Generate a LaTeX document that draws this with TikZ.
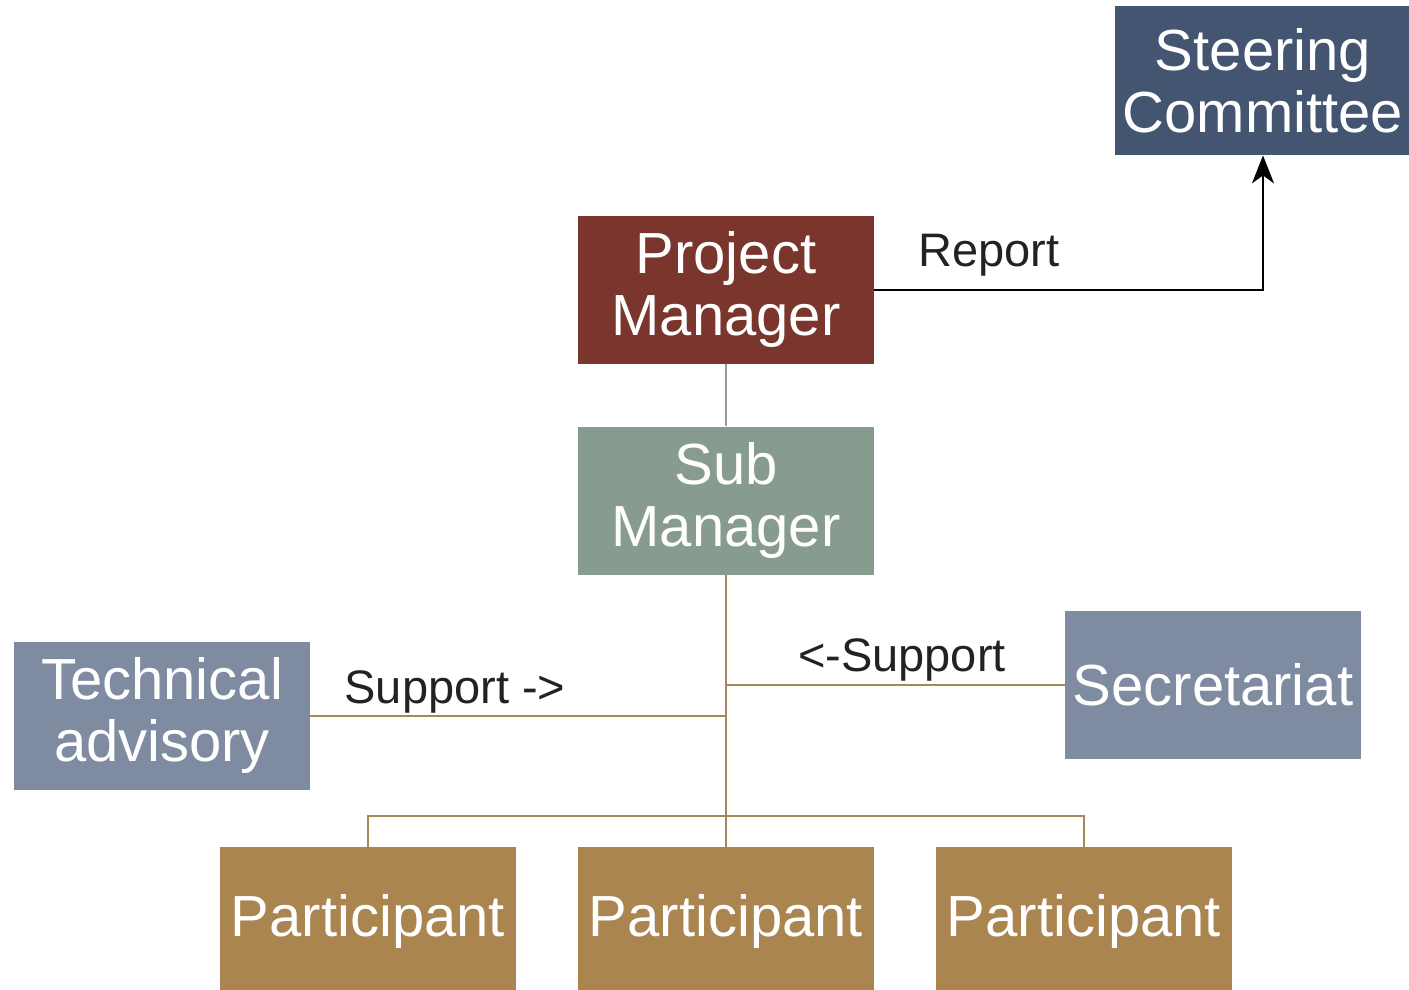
\documentclass[tikz,border=0pt]{standalone}
\usepackage{fontspec}
\setmainfont{Liberation Sans}
\usepackage{tikz}
\usetikzlibrary{arrows.meta,positioning}

\definecolor{steercol}{HTML}{435570}
\definecolor{pmcol}{HTML}{7A362C}
\definecolor{smcol}{HTML}{879C8F}
\definecolor{advcol}{HTML}{7F8BA0}
\definecolor{partcol}{HTML}{AA8550}
\definecolor{tanline}{HTML}{A8865C}
\definecolor{greyline}{HTML}{8FA197}
\definecolor{labcol}{HTML}{222222}

\tikzset{
  box/.style={inner sep=0pt,minimum width=148pt,minimum height=74pt,align=center,
    text=white,font=\fontsize{29}{31}\selectfont},
  lab/.style={inner sep=0pt,text=labcol,font=\fontsize{23.5}{27}\selectfont},
  tanwire/.style={draw=tanline,line width=1pt},
}

\begin{document}
\begin{tikzpicture}[x=0.5pt,y=0.5pt,yscale=-1,xscale=1]
\useasboundingbox (0,0) rectangle (1409,990);

%Shape: Rectangle [Steering Committee]
\node[box,fill=steercol,minimum height=74.5pt] (steer) at (1263,80.5) {Steering\\Committee};
%Shape: Rectangle [Project Manager]
\node[box,fill=pmcol] (pm) at (726,290) {Project\\Manager};
%Shape: Rectangle [Sub Manager]
\node[box,fill=smcol] (sub) at (726,500.5) {Sub\\Manager};
%Shape: Rectangle [Technical advisory]
\node[box,fill=advcol] (tech) at (162,715.5) {Technical\\advisory};
%Shape: Rectangle [Secretariat]
\node[box,fill=advcol] (secr) at (1213,684.5) {Secretariat};
%Shape: Rectangle [Participants]
\node[box,fill=partcol] (part1) at (368,921) {Participant};
\node[box,fill=partcol] (part2) at (726,921) {Participant};
\node[box,fill=partcol] (part3) at (1084,921) {Participant};

\coordinate (bus) at (726,816);

%Straight Lines
\draw[draw=greyline,line width=1pt] (pm.south) -- (sub.north);
\draw[tanwire] (sub.south) -- (part2.north);
\draw[tanwire] (tech.east) -- (tech.east -| sub.south);
\draw[tanwire] (secr.west) -- (secr.west -| sub.south);
\draw[tanwire] (part1.north) |- (bus) -| (part3.north);
%Arrow [Report]
\draw[line width=1pt,-{Stealth[length=14pt,width=11pt,inset=4pt]}] (pm.east) -| (steer.south);

% Text Node
\node[lab] (lrep) at (989,255) {Report};
% Text Node
\node[lab] (lsupl) at (455,692) {Support ->};
% Text Node
\node[lab] (lsupr) at (902,660) {<-Support};

\end{tikzpicture}
\end{document}
